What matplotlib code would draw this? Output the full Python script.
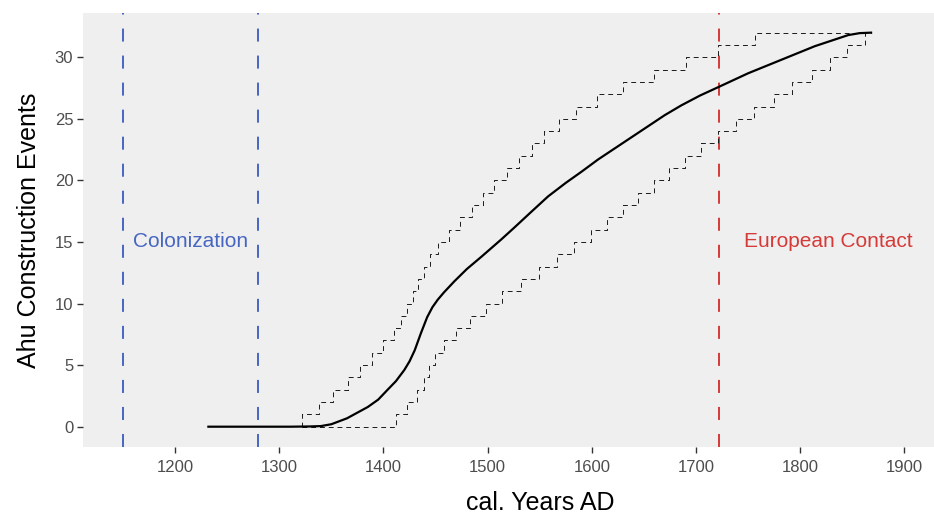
import matplotlib
matplotlib.use("Agg")
import matplotlib.pyplot as plt

plt.rcParams['font.family'] = ['Liberation Sans', 'DejaVu Sans']

#%% data
# summed construction curve (median)
annees = [1232, 1260, 1290, 1311, 1330, 1340, 1350, 1365, 1385, 1395, 1404, 1412, 1420,
          1425, 1430, 1436, 1442, 1447, 1452, 1458, 1468, 1480, 1494, 1513, 1526, 1540,
          1558, 1575, 1590, 1606, 1622, 1638, 1654, 1670, 1686, 1704, 1722, 1750, 1782,
          1814, 1846, 1857, 1868]
evenements = [0, 0, 0, 0, 0.02, 0.05, 0.2, 0.68, 1.6, 2.2, 3.0, 3.7, 4.6,
              5.3, 6.2, 7.6, 8.9, 9.7, 10.3, 10.9, 11.8, 12.8, 13.8, 15.2, 16.2, 17.3,
              18.7, 19.8, 20.7, 21.7, 22.6, 23.5, 24.4, 25.3, 26.1, 26.9, 27.6, 28.7, 29.8,
              30.9, 31.8, 31.96, 32.0]

# bounds as step functions: start year of each count level
haut_debut = [1321.6, 1321.6, 1337.7, 1352, 1366, 1377.8, 1389, 1400, 1410.6, 1417,
              1423, 1428.6, 1433.6, 1439, 1445, 1452, 1462.5, 1473.5, 1484.7, 1495.8,
              1506, 1518.6, 1530.4, 1542.2, 1554.3, 1568.7, 1584.8, 1605, 1629.6,
              1659.9, 1690.4, 1721.4, 1756.7, 1868]
haut_niveau = list(range(0, 33)) + [32]

bas_debut = [1321.6, 1412, 1423, 1432, 1438.5, 1443.9, 1449.6, 1458.3, 1469.5, 1483.3,
             1498.3, 1513.5, 1532, 1549.6, 1566.6, 1583.2, 1599.2, 1614.6, 1629.6,
             1644, 1659.4, 1674.4, 1689.4, 1705, 1721, 1738.4, 1756, 1774.5, 1792,
             1811, 1828.9, 1845, 1862.2, 1868]
bas_niveau = list(range(0, 33)) + [32]

colonisation = [1150, 1280]
contact = 1722
label_colonisation = ("Colonization", 1215, 15)
label_contact = ("European Contact", 1827, 15)

BLEU = '#4766c2'
ROUGE = '#d43a38'

#%% figure
fig = plt.figure(figsize=(9.34, 5.16), dpi=100, facecolor='white')
ax = fig.add_axes([0.0889, 0.1337, 0.9786, 0.8405])
ax.set_facecolor('#efefef')
for s in ax.spines.values():
    s.set_visible(False)

# bounds
for xs, ys in [(haut_debut, haut_niveau), (bas_debut, bas_niveau)]:
    ax.plot(xs, ys, drawstyle='steps-post', color='#1a1a1a', lw=0.7,
            dashes=(5, 4), zorder=2)

ax.plot(annees, evenements, color='black', lw=1.6, zorder=3,
        solid_joinstyle='round')

# reference dates
for x in colonisation:
    ax.axvline(x, color=BLEU, lw=1.4, dashes=(6.7, 7.2), zorder=1)
ax.axvline(contact, color=ROUGE, lw=1.4, dashes=(6.7, 7.2), zorder=1)

ax.text(label_colonisation[1], label_colonisation[2], label_colonisation[0],
        color=BLEU, fontsize=15, ha='center', va='center')
ax.text(label_contact[1], label_contact[2], label_contact[0],
        color=ROUGE, fontsize=15, ha='center', va='center')

ax.set_xlim(1111.7, 1988.9)
ax.set_ylim(-1.65, 33.57)
ax.set_xticks(range(1200, 2000, 100))
ax.set_yticks(range(0, 31, 5))
ax.tick_params(axis='both', length=4, width=1, color='#333333',
               labelcolor='#4d4d4d', labelsize=12, pad=3)
ax.tick_params(axis='x', pad=5)

ax.set_xlabel("cal. Years AD", fontsize=18, labelpad=12)
ax.set_ylabel("Ahu Construction Events", fontsize=18, labelpad=10)

fig.savefig("out.png", dpi=100)
